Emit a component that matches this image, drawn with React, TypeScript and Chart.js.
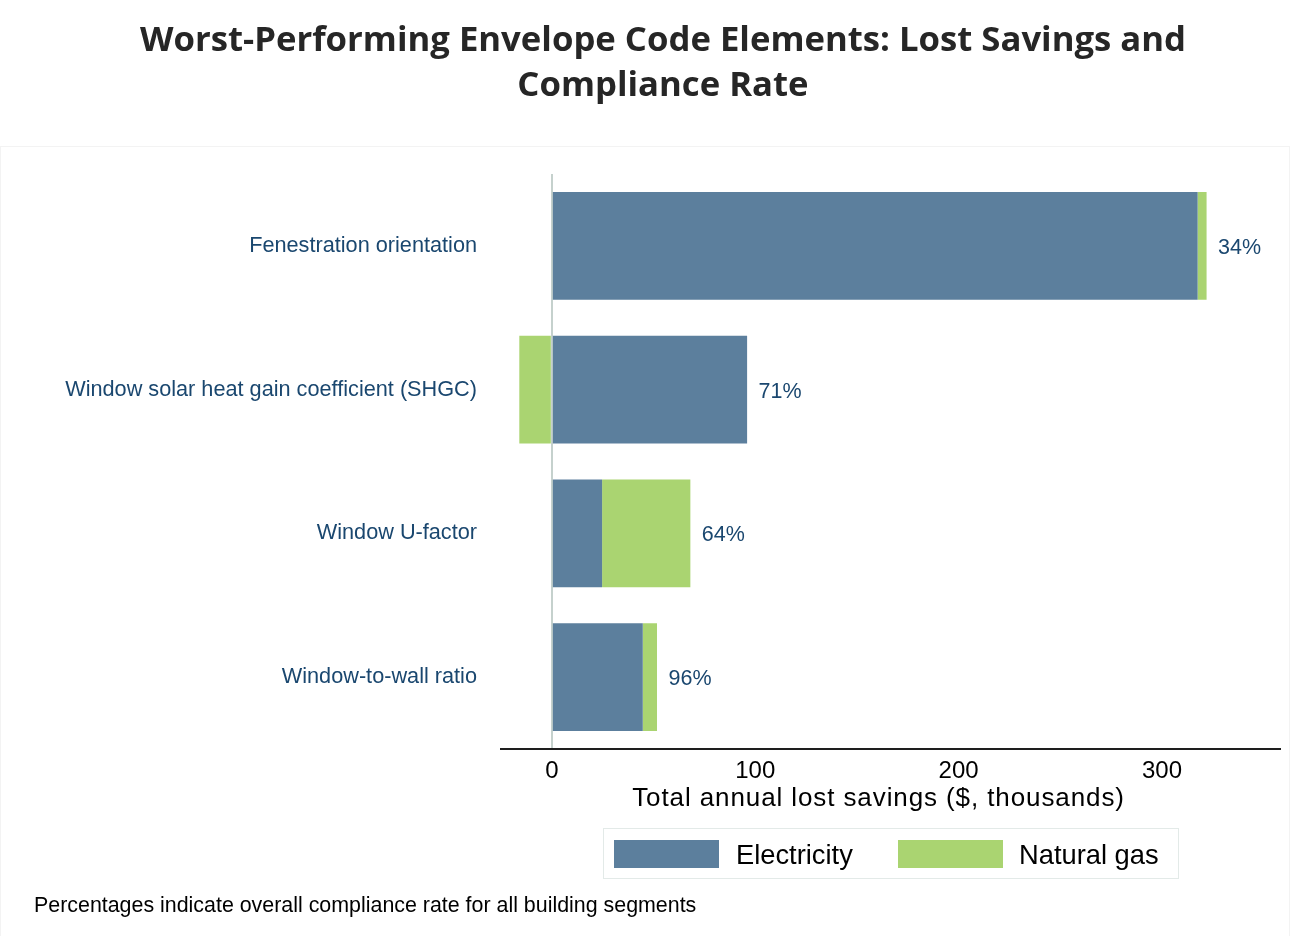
import React, { useEffect, useRef } from "react";
import { Chart, registerables } from "chart.js";

Chart.register(...registerables);

// ---- data ----
const categories = [
  "Fenestration orientation",
  "Window solar heat gain coefficient (SHGC)",
  "Window U-factor",
  "Window-to-wall ratio",
];
const electricity = [317.5, 96, 24.7, 44.7];
const naturalGas = [4.4, -16, 43.4, 7];
const complianceLabels = ["34%", "71%", "64%", "96%"];
const xTickValues = [0, 100, 200, 300];
const xMin = -25;
const xMax = 358;
const xTitle = "Total annual lost savings ($, thousands)";
const chartTitle = ["Worst-Performing Envelope Code Elements: Lost Savings and", "Compliance Rate"];
const legendLabels = ["Electricity", "Natural gas"];
const footnote = "Percentages indicate overall compliance rate for all building segments";

// ---- style ----
const ELEC = "#5c7f9d";
const GAS = "#aad471";
const NAVY = "#1a476f";
const SANS = "'Liberation Sans', Arial, sans-serif";

export default function App() {
  const ref = useRef<HTMLCanvasElement>(null);

  useEffect(() => {
    const canvas = ref.current;
    if (!canvas) return;

    const labelPlugin = {
      id: "pctLabels",
      afterDatasetsDraw(chart: any) {
        const { ctx, scales, chartArea } = chart;
        const xs = scales.x;
        const ys = scales.y;
        ctx.save();
        ctx.font = `21.5px ${SANS}`;
        ctx.fillStyle = NAVY;
        ctx.textAlign = "left";
        ctx.textBaseline = "alphabetic";
        categories.forEach((_, i) => {
          const pos = Math.max(0, electricity[i]) + Math.max(0, naturalGas[i]);
          const x = xs.getPixelForValue(pos) + 11.5;
          const y = ys.getPixelForValue(i) + 8;
          ctx.fillText(complianceLabels[i], x, y);
        });
        ctx.font = `26px ${SANS}`;
        ctx.fillStyle = "#000";
        ctx.textAlign = "center";
        try {
          (ctx as any).letterSpacing = "0.9px";
        } catch (e) {}
        ctx.fillText(xTitle, (chartArea.left + chartArea.right) / 2 - 12, chartArea.bottom + 57);
        ctx.restore();
      },
    };

    const chart = new Chart(canvas, {
      type: "bar",
      data: {
        labels: categories,
        datasets: [
          {
            label: legendLabels[0],
            data: electricity,
            backgroundColor: ELEC,
            borderWidth: 0,
            barPercentage: 0.75,
            categoryPercentage: 1,
          },
          {
            label: legendLabels[1],
            data: naturalGas,
            backgroundColor: GAS,
            borderWidth: 0,
            barPercentage: 0.75,
            categoryPercentage: 1,
          },
        ],
      },
      options: {
        indexAxis: "y",
        responsive: false,
        animation: false,
        devicePixelRatio: 1,
        layout: { padding: { top: 174, right: 28, left: 0, bottom: 0 } },
        plugins: {
          legend: { display: false },
          title: { display: false },
          tooltip: { enabled: false },
        },
        scales: {
          x: {
            type: "linear",
            stacked: true,
            min: xMin,
            max: xMax,
            afterBuildTicks: (scale: any) => {
              scale.ticks = xTickValues.map((v) => ({ value: v }));
            },
            afterFit: (scale: any) => {
              scale.height = 202;
            },
            ticks: {
              font: { family: SANS, size: 24 },
              color: "#000",
              padding: 8,
              maxRotation: 0,
              autoSkip: false,
            },
            grid: {
              drawTicks: false,
              lineWidth: 2,
              color: (ctx: any) => (ctx.tick && ctx.tick.value === 0 ? "#c5d1cd" : "rgba(0,0,0,0)"),
            },
            border: { display: true, color: "#1e1e1e", width: 2 },
          },
          y: {
            type: "category",
            stacked: true,
            afterFit: (scale: any) => {
              scale.width = 501;
            },
            ticks: {
              font: { family: SANS, size: 21.7 },
              color: NAVY,
              padding: 24,
              autoSkip: false,
            },
            grid: { display: false, drawTicks: false },
            border: { display: false },
          },
        },
      },
      plugins: [labelPlugin],
    } as any);

    return () => chart.destroy();
  }, []);

  return (
    <div
      style={{
        position: "absolute",
        left: 0,
        top: 0,
        width: 1308,
        height: 951,
        overflow: "hidden",
        background: "#fff",
      }}
    >
      <div
        style={{
          position: "absolute",
          left: 0,
          top: 146,
          width: 1290,
          height: 790,
          borderTop: "1px solid #f3f3f3",
          borderLeft: "1px solid #f3f3f3",
          borderRight: "1px solid #f3f3f3",
          boxSizing: "border-box",
        }}
      />
      <canvas
        ref={ref}
        width={1308}
        height={951}
        style={{ position: "absolute", left: 0, top: 0, width: 1308, height: 951 }}
      />
      <div
        style={{
          position: "absolute",
          left: 0,
          top: 15,
          width: 1326,
          textAlign: "center",
          fontFamily: "'Open Sans', sans-serif",
          fontWeight: 700,
          fontSize: 34.7,
          lineHeight: "45px",
          color: "#262626",
        }}
      >
        <div>{chartTitle[0]}</div>
        <div>{chartTitle[1]}</div>
      </div>
      <div
        style={{
          position: "absolute",
          left: 603,
          top: 828,
          width: 576,
          height: 51,
          border: "1px solid #e3eae8",
          boxSizing: "border-box",
        }}
      />
      <div style={{ position: "absolute", left: 614, top: 840, width: 105, height: 28, background: ELEC }} />
      <div
        style={{
          position: "absolute",
          left: 736,
          top: 841,
          fontFamily: SANS,
          fontSize: 27.3,
          lineHeight: "28px",
          color: "#000",
          whiteSpace: "nowrap",
        }}
      >
        {legendLabels[0]}
      </div>
      <div style={{ position: "absolute", left: 898, top: 840, width: 105, height: 28, background: GAS }} />
      <div
        style={{
          position: "absolute",
          left: 1019,
          top: 841,
          fontFamily: SANS,
          fontSize: 27.3,
          lineHeight: "28px",
          color: "#000",
          whiteSpace: "nowrap",
        }}
      >
        {legendLabels[1]}
      </div>
      <div
        style={{
          position: "absolute",
          left: 34,
          top: 895,
          fontFamily: SANS,
          fontSize: 21.4,
          lineHeight: "20px",
          color: "#000",
          whiteSpace: "nowrap",
        }}
      >
        {footnote}
      </div>
    </div>
  );
}
